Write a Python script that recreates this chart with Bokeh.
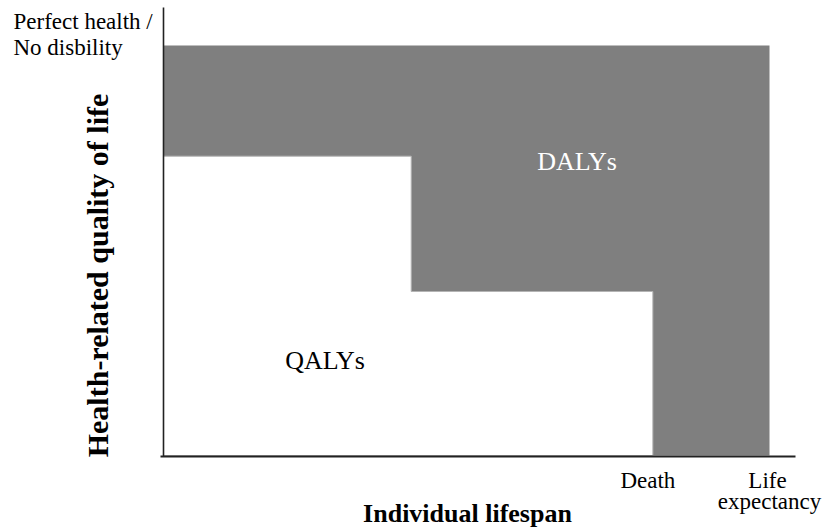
import math
from bokeh.plotting import figure
from bokeh.models import Label, Range1d
from bokeh.embed import file_html
from bokeh.resources import INLINE

# ---- data ----
life_expectancy = 80.0          # years (end of the DALY region)
death_age = 64.6                # age at death
stage_start = [0.0, 32.7]       # health stages lived (QALYs)
stage_end = [32.7, 64.6]
stage_quality = [0.73, 0.40]    # health-related quality of life in each stage
perfect_health = 1.0

tick_labels = ["Death", "Life\nexpectancy"]
tick_positions = [death_age, life_expectancy]
region_labels = ["DALYs", "QALYs"]
top_label = ["Perfect health /", "No disbility"]
x_title = "Individual lifespan"
y_title = "Health-related quality of life"

# ---- layout (page pixels -> data) ----
W, H = 822, 529
OFF = 0
PX_X0, PX_LE = 163, 769
PX_Y0, PX_Y1 = 455, 45
sx = (PX_LE - PX_X0) / life_expectancy
sy = (PX_Y0 - PX_Y1) / perfect_health
BL = -7  # baseline correction in px


def dx(px):
    return (px - PX_X0) / sx


def dy(py):
    return (PX_Y0 - py) / sy


p = figure(width=W, height=H, output_backend="svg", toolbar_location=None,
           x_axis_location=None, y_axis_location=None, title=None,
           min_border=0, min_border_left=0, min_border_right=0,
           min_border_top=0, min_border_bottom=0,
           x_range=Range1d(dx(OFF), dx(OFF + W)),
           y_range=Range1d(dy(OFF + H), dy(OFF)))
p.grid.visible = False
p.outline_line_color = None
p.background_fill_color = "white"
p.border_fill_color = "white"

GRAY = "#7f7f7f"
# DALY region (whole potential lifespan at perfect health)
p.quad(left=[0], right=[life_expectancy], bottom=[0], top=[perfect_health],
       fill_color=GRAY, line_color=None)

# QALY region as one stepped polygon built from the stages
qx, qy = [], []
for s, e, q in zip(stage_start, stage_end, stage_quality):
    qx += [s, e]
    qy += [q, q]
qx += [stage_end[-1], stage_start[0]]
qy += [0, 0]
p.patch(qx, qy, fill_color="white", line_color="#b4b4b4", line_width=1)

# axes lines
p.segment(x0=[0], y0=[dy(456)], x1=[0], y1=[dy(7)], line_color="#222222", line_width=1.6)
p.segment(x0=[dx(160)], y0=[dy(456)], x1=[dx(795)], y1=[dy(456)], line_color="#222222", line_width=2)

FONT = "Liberation Serif"


def lab(text, x, y, size, color="black", bold=False, align="center",
        baseline="alphabetic", angle=0.0):
    p.add_layout(Label(x=x, y=y, text=text, text_font=FONT,
                       text_font_size=f"{size}px", text_color=color,
                       text_font_style="bold" if bold else "normal",
                       text_align=align, text_baseline=baseline, angle=angle))


# region labels
lab(region_labels[0], dx(576.5), dy(168 + BL), 26, color="white")
lab(region_labels[1], dx(324.5), dy(367 + BL), 26)

# tick labels
lab(tick_labels[0], tick_positions[0] + dx(647) - dx(652), dy(487 + BL), 23)
life, expct = tick_labels[1].split("\n")
lab(life, tick_positions[1] + dx(767) - dx(769), dy(487 + BL), 23)
lab(expct, tick_positions[1], dy(508 + BL), 23)

# top-left label
lab(top_label[0], dx(13), dy(28 + BL), 23, align="left")
lab(top_label[1], dx(13), dy(54 + BL), 23, align="left")

# axis titles
lab(x_title, dx(467), dy(520 + BL), 26, bold=True)
lab(y_title, dx(97), dy(275), 30, bold=True, baseline="middle", angle=math.pi / 2)

open("out.html", "w").write(file_html(p, INLINE))
